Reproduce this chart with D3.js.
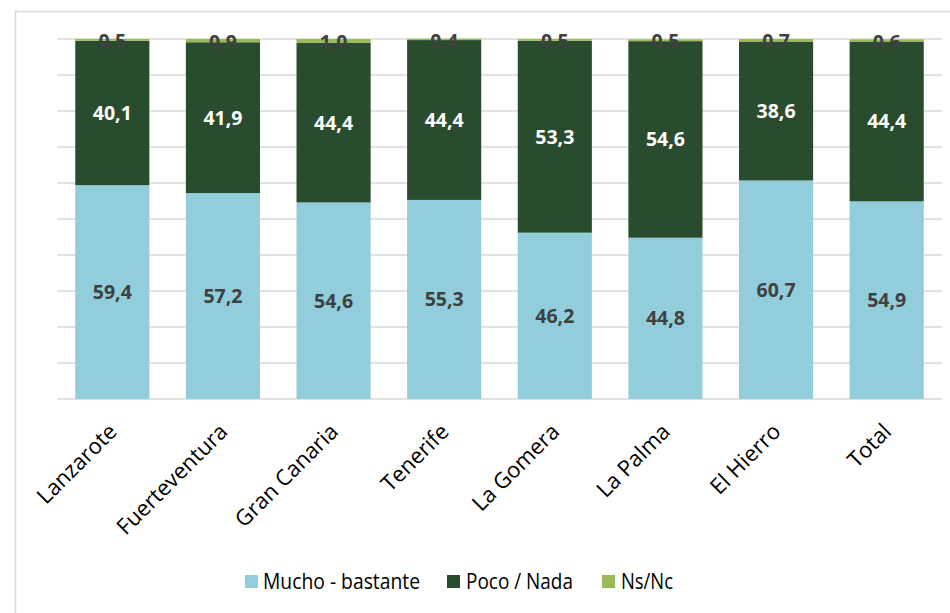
<!DOCTYPE html>
<html>
<head>
<meta charset="utf-8">
<script src="https://cdn.jsdelivr.net/npm/d3@7"></script>
<style>
  html, body { margin: 0; padding: 0; background: #fff; }
  svg { display: block; }
</style>
</head>
<body>
<svg id="chart" width="950" height="613"></svg>
<script>
const categories = ["Lanzarote", "Fuerteventura", "Gran Canaria", "Tenerife", "La Gomera", "La Palma", "El Hierro", "Total"];
const mucho = [59.4, 57.2, 54.6, 55.3, 46.2, 44.8, 60.7, 54.9];
const poco = [40.1, 41.9, 44.4, 44.4, 53.3, 54.6, 38.6, 44.4];
const nsnc = [0.5, 0.9, 1.0, 0.4, 0.5, 0.5, 0.7, 0.6];
const seriesNames = ["Mucho - bastante", "Poco / Nada", "Ns/Nc"];
const seriesColors = ["#92CDDC", "#2A4C2E", "#9BBB59"];
const labelColors = ["#404040", "#FFFFFF", "#404040"];
const yTicks = [0, 10, 20, 30, 40, 50, 60, 70, 80, 90, 100];

const svg = d3.select("#chart");
const fmt = v => v.toFixed(1).replace(".", ",");

// outer frame
svg.append("rect").attr("x", 15.5).attr("y", 11.5).attr("width", 1000).attr("height", 1000)
  .attr("fill", "none").attr("stroke", "#D9D9D9").attr("stroke-width", 1.5);

const x = d3.scaleBand().domain(categories).range([57, 942]).paddingInner(0.33).paddingOuter(0.165);
const y = d3.scaleLinear().domain([0, 100]).range([399, 39]);

// gridlines
svg.append("g").selectAll("line").data(yTicks).join("line")
  .attr("x1", 57).attr("x2", 942)
  .attr("y1", d => y(d)).attr("y2", d => y(d))
  .attr("stroke", "#D9D9D9").attr("stroke-width", 1.5);

const rows = categories.map((c, i) => ({cat: c, s0: mucho[i], s1: poco[i], s2: nsnc[i]}));
const stack = d3.stack().keys(["s0", "s1", "s2"])(rows);

const g = svg.append("g");
stack.forEach((layer, li) => {
  g.append("g").selectAll("rect").data(layer).join("rect")
    .attr("x", d => x(d.data.cat))
    .attr("width", x.bandwidth())
    .attr("y", d => y(d[1]))
    .attr("height", d => y(d[0]) - y(d[1]))
    .attr("fill", seriesColors[li]);
});
stack.forEach((layer, li) => {
  g.append("g").selectAll("text").data(layer).join("text")
    .attr("x", d => x(d.data.cat) + x.bandwidth() / 2)
    .attr("y", d => (y(d[0]) + y(d[1])) / 2)
    .attr("dy", li === 2 ? "0.42em" : "0.36em")
    .attr("text-anchor", "middle")
    .attr("font-family", "'Open Sans', 'Liberation Sans', sans-serif")
    .attr("font-weight", "bold")
    .attr("font-size", 19.5)
    .attr("fill", labelColors[li])
    .text(d => fmt(d[1] - d[0]));
});

// x axis labels
const xAxis = d3.axisBottom(x).tickSize(0).tickPadding(0);
const ax = svg.append("g").attr("transform", "translate(0,399)").call(xAxis);
ax.select(".domain").remove();
ax.selectAll("text")
  .attr("font-family", "'Open Sans', 'Liberation Sans', sans-serif")
  .attr("font-size", 22)
  .attr("fill", "#000")
  .attr("text-anchor", "end")
  .attr("dy", 0)
  .attr("y", 0)
  .attr("transform", "translate(6,34) rotate(-45)");

// legend
const legendItems = [
  {name: seriesNames[0], color: seriesColors[0], sx: 245, tx: 263, len: 157},
  {name: seriesNames[1], color: seriesColors[1], sx: 447, tx: 466, len: 107},
  {name: seriesNames[2], color: seriesColors[2], sx: 602, tx: 621, len: 52}
];
const lg = svg.append("g");
legendItems.forEach(it => {
  lg.append("rect").attr("x", it.sx).attr("y", 575).attr("width", 13).attr("height", 13).attr("fill", it.color);
  lg.append("text").attr("x", it.tx).attr("y", 589)
    .attr("font-family", "'Open Sans', 'Liberation Sans', sans-serif")
    .attr("font-size", 21)
    .attr("fill", "#000")
    .attr("textLength", it.len).attr("lengthAdjust", "spacingAndGlyphs")
    .text(it.name);
});
</script>
</body>
</html>
